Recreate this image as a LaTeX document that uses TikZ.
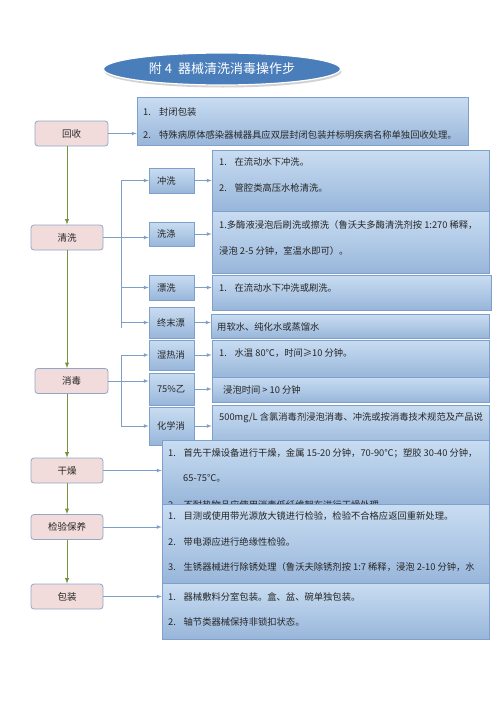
\documentclass[tikz,border=0pt]{standalone}
\usepackage{fontspec}
\setmainfont{Noto Sans CJK SC}
\usepackage{xcolor}
\usetikzlibrary{shapes, arrows, positioning, calc, shadows}

\definecolor{boxtop}{HTML}{C9DDF2}
\definecolor{boxbot}{HTML}{98B6DA}
\definecolor{boxline}{HTML}{7FA0CA}
\definecolor{stagefill}{HTML}{F2DCDB}
\definecolor{stageline}{HTML}{8FA8C8}
\definecolor{linkblue}{HTML}{7F9FC8}
\definecolor{flowgreen}{HTML}{77933C}
\definecolor{titleblue}{HTML}{4A7EBB}

\newcommand{\lnum}[1]{\makebox[15.5pt][l]{#1.}}

\tikzset{
    stagebox/.style={draw=stageline, fill=stagefill, rounded corners=3pt, line width=0.8pt,
        inner sep=0pt, minimum height=25, text=black!85, font=\fontsize{9.5}{11}\selectfont},
    subbox/.style={draw=boxline, top color=boxtop, bottom color=boxbot, line width=0.6pt,
        inner sep=0pt, minimum width=45, text width=29, align=left, text=black!85,
        font=\fontsize{9.3}{11}\selectfont},
    infobox/.style={draw=boxline, top color=boxtop, bottom color=boxbot, line width=0.6pt, inner sep=0pt},
    txt/.style={anchor=west, inner sep=0pt, text=black!85, font=\fontsize{9.3}{11}\selectfont},
    link/.style={draw=linkblue, line width=0.7pt, -latex},
    branch/.style={draw=linkblue, line width=0.7pt},
    flow/.style={draw=flowgreen, line width=0.9pt, -latex}
}

\begin{document}
\begin{tikzpicture}[x=1pt, y=-1pt]
    \fill[white] (0,0) rectangle (500,707);
    \useasboundingbox (0,0) rectangle (500,707);

    % Title
    \node[ellipse, draw=white, line width=1.2pt, fill=titleblue, minimum width=237, minimum height=32,
        inner sep=0pt, text=white, font=\fontsize{13}{15}\selectfont,
        drop shadow={shadow xshift=1pt, shadow yshift=-2.5pt, fill=black!35}]
        (title) at (222,69) {附 4\hspace{6pt}器械清洗消毒操作步};

    % Stages on the left
    \foreach \n/\x/\y/\w/\t in {
        huishou/71.5/133.5/73/回收,
        qingxi/67/237.5/72/清洗,
        xiaodu/71.5/381/73/消毒,
        ganzao/67/470.5/72/干燥,
        jianyan/67/527/72/检验保养,
        baozhuang/67/596.5/72/包装
    } {
        \node[stagebox, minimum width=\w] (\n) at (\x,\y) {\t};
    }

    % Green main flow
    \draw[flow] (huishou.south -| qingxi.north) -- (qingxi.north);
    \draw[flow] (qingxi.south) -- (xiaodu.north -| qingxi.south);
    \draw[flow] (xiaodu.south -| ganzao.north) -- (ganzao.north);
    \draw[flow] (ganzao) -- (jianyan);
    \draw[flow] (jianyan) -- (baozhuang);

    % Sub steps
    \foreach \n/\y/\h/\t in {
        chongxi/180.5/25/冲洗,
        xidi/234/24/洗涤,
        piaoxi/287.5/25/漂洗,
        zhongmo/322.5/31/终末漂,
        shire/355/30/湿热消,
        yichun/389/32/75\%乙,
        huaxue/426/38/化学消
    } {
        \node[subbox, minimum height=\h] (\n) at (171.5,\y) {\t};
    }

    % Text boxes for the upper steps
    \foreach \n/\x/\y/\w/\h in {
        t1/302.5/121/331/48,
        t2/350.5/180.5/277/61,
        t3/350.5/242/277/62,
        t4/351.5/292.5/279/35,
        t5/350/326/278/24,
        t6/350.5/358.5/277/37,
        t7/350.5/389.5/277/25,
        t8/350.5/427.5/277/45
    } {
        \node[infobox, minimum width=\w, minimum height=\h] (\n) at (\x,\y) {};
    }

    \foreach \x/\y/\t [count=\i] in {
        143/112/{\makebox[16pt][l]{1.}封闭包装},
        143/135/{\makebox[16pt][l]{2.}特殊病原体感染器械器具应双层封闭包装并标明疾病名称单独回收处理。},
        219/162/{\lnum{1}在流动水下冲洗。},
        219/188/{\lnum{2}管腔类高压水枪清洗。},
        219/225/{1.多酶液浸泡后刷洗或擦洗（鲁沃夫多酶清洗剂按 1:270 稀释，},
        219/251/{浸泡 2-5 分钟，室温水即可）。},
        219/288/{\lnum{1}在流动水下冲洗或刷洗。},
        217/327/{用软水、纯化水或蒸馏水},
        219/353/{\lnum{1}水温 80℃，时间≥10 分钟。},
        223/390/{浸泡时间 > 10 分钟},
        219/418/{500mg/L 含氯消毒剂浸泡消毒、冲洗或按消毒技术规范及产品说}
    } {
        \node[txt] (up\i) at (\x,\y) {\t};
    }

    % Connectors
    \coordinate (bx) at (121,0);
    \coordinate (qend) at (121,328);
    \draw[link] (huishou.east) -- (huishou.east -| t1.west);
    \draw[link] (qingxi.east) -- (qingxi.east -| xidi.west);
    \draw[branch] (bx |- chongxi.west) -- (qend);
    \foreach \s in {chongxi, piaoxi, zhongmo}
        \draw[link] (bx |- \s.west) -- (\s.west);
    \draw[link] (xiaodu.east) -- (xiaodu.east -| yichun.west);
    \draw[branch] (bx |- shire.west) -- (bx |- huaxue.west);
    \foreach \s in {shire, huaxue}
        \draw[link] (bx |- \s.west) -- (\s.west);
    \foreach \s/\t in {chongxi/t2, xidi/t3, piaoxi/t4, zhongmo/t5, shire/t6, yichun/t7, huaxue/t8}
        \draw[link] (\s.east) -- (\s.east -| \t.west);

    % Lower text boxes, each one over the one before
    \node[infobox, minimum width=327, minimum height=64] (t9) at (325.5,472) {};
    \foreach \x/\y/\t [count=\i] in {
        168/453/{\lnum{1}首先干燥设备进行干燥，金属 15-20 分钟，70-90℃；塑胶 30-40 分钟，},
        183/478/{65-75℃。},
        168/505/{\lnum{2}不耐热物品应使用消毒低纤维絮布进行干燥处理}
    } {
        \node[txt] (gz\i) at (\x,\y) {\t};
    }

    \node[infobox, minimum width=327, minimum height=79] (t10) at (325.5,543.5) {};
    \foreach \x/\y/\t [count=\i] in {
        168/516/{\lnum{1}目测或使用带光源放大镜进行检验，检验不合格应返回重新处理。},
        168/542/{\lnum{2}带电源应进行绝缘性检验。},
        168/567/{\lnum{3}生锈器械进行除锈处理（鲁沃夫除锈剂按 1:7 稀释，浸泡 2-10 分钟，水}
    } {
        \node[txt] (jy\i) at (\x,\y) {\t};
    }

    \node[infobox, minimum width=327, minimum height=56] (t11) at (325.5,611) {};
    \foreach \x/\y/\t [count=\i] in {
        168/597/{\lnum{1}器械敷料分室包装。盒、盆、碗单独包装。},
        168/622/{\lnum{2}轴节类器械保持非锁扣状态。}
    } {
        \node[txt] (bz\i) at (\x,\y) {\t};
    }

    \draw[link] (ganzao.east) -- (ganzao.east -| t9.west);
    \draw[link] (jianyan.east) -- (jianyan.east -| t10.west);
    \draw[link] (baozhuang.east) -- (baozhuang.east -| t11.west);
\end{tikzpicture}
\end{document}
